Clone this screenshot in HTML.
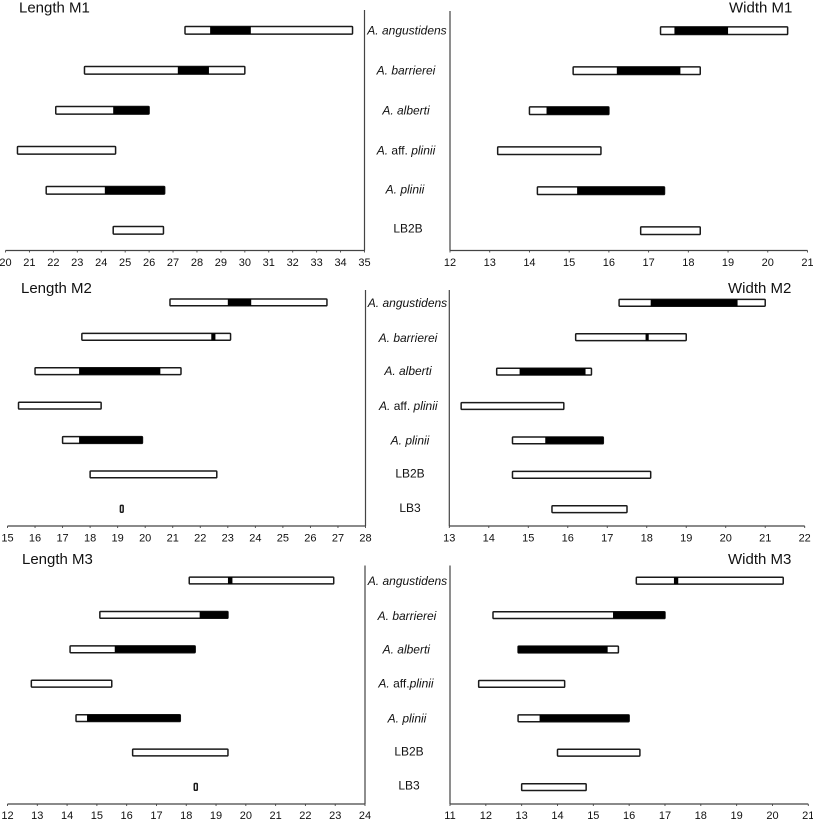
<!DOCTYPE html>
<html lang="en">
<head>
<meta charset="utf-8">
<title>Tooth measurement ranges</title>
<style>
html,body{margin:0;padding:0;background:#fff;width:813px;height:820px;overflow:hidden}
svg{display:block}
text{font-family:"Liberation Sans",Arial,sans-serif;fill:#111}
.title{font-size:15px}
.tick{font-size:11px;text-anchor:middle}
.cat{font-size:12px;text-anchor:middle}
</style>
</head>
<body>
<svg id="chart" width="813" height="820" viewBox="0 0 813 820" xmlns="http://www.w3.org/2000/svg">
  <rect x="0" y="0" width="813" height="820" fill="#fff"/>
  <text class="title" x="19" y="12.5">Length M1</text>
  <text class="title" x="729" y="12.5">Width M1</text>
  <text class="title" x="21" y="293">Length M2</text>
  <text class="title" x="728" y="293">Width M2</text>
  <text class="title" x="22" y="564">Length M3</text>
  <text class="title" x="728" y="564">Width M3</text>
</svg>
<script>
// Categories
const taxaM1 = ["A. angustidens", "A. barrierei", "A. alberti", "A. aff. plinii", "A. plinii", "LB2B"];
const taxaM2 = ["A. angustidens", "A. barrierei", "A. alberti", "A. aff. plinii", "A. plinii", "LB2B", "LB3"];
const taxaM3 = ["A. angustidens", "A. barrierei", "A. alberti", "A. aff.plinii", "A. plinii", "LB2B", "LB3"];

// Tick labels
const ticksLengthM1 = [20,21,22,23,24,25,26,27,28,29,30,31,32,33,34,35];
const ticksWidthM1  = [12,13,14,15,16,17,18,19,20,21];
const ticksLengthM2 = [15,16,17,18,19,20,21,22,23,24,25,26,27,28];
const ticksWidthM2  = [13,14,15,16,17,18,19,20,21,22];
const ticksLengthM3 = [12,13,14,15,16,17,18,19,20,21,22,23,24];
const ticksWidthM3  = [11,12,13,14,15,16,17,18,19,20,21];

// Total ranges (min, max) per taxon
const rangeLengthM1 = [[27.5,34.5],[23.3,30],[22.1,26],[20.5,24.6],[21.7,26.65],[24.5,26.6]];
const rangeWidthM1  = [[17.3,20.5],[15.1,18.3],[14,16],[13.2,15.8],[14.2,17.4],[16.8,18.3]];
const rangeLengthM2 = [[20.9,26.6],[17.7,23.1],[16,21.3],[15.4,18.4],[17,19.9],[18,22.6],[19.1,19.2]];
const rangeWidthM2  = [[17.3,21],[16.2,19],[14.2,16.6],[13.3,15.9],[14.6,16.9],[14.6,18.1],[15.6,17.5]];
const rangeLengthM3 = [[18.1,22.95],[15.1,19.4],[14.1,18.3],[12.8,15.5],[14.3,17.8],[16.2,19.4],[18.27,18.37]];
const rangeWidthM3  = [[16.2,20.3],[12.2,17],[12.9,15.7],[11.8,14.2],[12.9,16],[14,16.3],[13,14.8]];

// Black (overlap) segments per taxon; null where there is none
const overlapLengthM1 = [[28.55,30.25],[27.2,28.5],[24.5,26],null,[24.15,26.65],null];
const overlapWidthM1  = [[17.65,19],[16.2,17.8],[14.43,16],null,[15.2,17.4],null];
const overlapLengthM2 = [[23,23.85],[22.4,22.55],[17.6,20.55],null,[17.6,19.9],null,null];
const overlapWidthM2  = [[18.1,20.3],[17.97,18.05],[14.78,16.45],null,[15.43,16.9],null,null];
const overlapLengthM3 = [[19.4,19.55],[18.45,19.4],[15.6,18.3],null,[14.67,17.8],null,null];
const overlapWidthM3  = [[17.25,17.37],[15.55,17],[12.9,15.4],null,[13.5,16],null,null];

// Panel layout (pixels) kept apart from the data
const panels = [
  {id:"length-m1", taxa:taxaM1, ticks:ticksLengthM1, range:rangeLengthM1, overlap:overlapLengthM1, side:"left",
   x0:5.5, x1:364.5, axisY:250.5, top:10, row0:30.3, step:40, barH:7.6, labelY:4, labelDy:[0,0,0,0,-1,-2], labelX:[407,406,406,406,405,408], tickY:266},
  {id:"width-m1", taxa:taxaM1, ticks:ticksWidthM1, range:rangeWidthM1, overlap:overlapWidthM1, side:"right",
   x0:450, x1:807.5, axisY:250.5, top:11, row0:30.7, step:40, barH:7.6, tickY:266},
  {id:"length-m2", taxa:taxaM2, ticks:ticksLengthM2, range:rangeLengthM2, overlap:overlapLengthM2, side:"left",
   x0:7.5, x1:365.5, axisY:526, top:290, row0:302.4, step:34.4, barH:6.8, labelY:4, labelDy:[0.5,1,0,0.5,0.5,-1,-1], labelX:[407.5,408,408,408.3,410,410,410], tickY:541.5},
  {id:"width-m2", taxa:taxaM2, ticks:ticksWidthM2, range:rangeWidthM2, overlap:overlapWidthM2, side:"right",
   x0:449.3, x1:804.7, axisY:526, top:290, row0:302.8, step:34.4, barH:6.8, tickY:541.5},
  {id:"length-m3", taxa:taxaM3, ticks:ticksLengthM3, range:rangeLengthM3, overlap:overlapLengthM3, side:"left",
   x0:7.5, x1:365, axisY:804, top:565.5, row0:580.5, step:34.4, barH:6.8, labelY:4, labelDy:[0.5,1,0,0,0.5,-1,-1.5], labelX:[407.5,407,406.3,406,407,409,409], tickY:819},
  {id:"width-m3", taxa:taxaM3, ticks:ticksWidthM3, range:rangeWidthM3, overlap:overlapWidthM3, side:"right",
   x0:450, x1:808.3, axisY:804, top:565.5, row0:580.7, step:34.4, barH:6.8, tickY:819}
];

const SVG_NS = "http://www.w3.org/2000/svg";
const svgRoot = document.getElementById("chart");
const INK = "#1a1a1a";
const AXIS = "#444";

function make(tag, parent) {
  const el = document.createElementNS(SVG_NS, tag);
  parent.appendChild(el);
  return el;
}
function line(parent, x1, y1, x2, y2, color, width) {
  const el = make("line", parent);
  el.setAttribute("x1", x1);
  el.setAttribute("y1", y1);
  el.setAttribute("x2", x2);
  el.setAttribute("y2", y2);
  el.setAttribute("stroke", color);
  el.setAttribute("stroke-width", width);
  return el;
}
function addTaxonText(el, name) {
  if (/^LB/.test(name)) {
    el.textContent = name;
    return;
  }
  const m = name.match(/^(A\. )(aff\.)( ?)(.*)$/);
  el.setAttribute("font-style", "italic");
  if (!m) {
    el.textContent = name;
    return;
  }
  el.appendChild(document.createTextNode(m[1]));
  const aff = make("tspan", el);
  aff.setAttribute("font-style", "normal");
  aff.textContent = m[2] + m[3];
  el.appendChild(document.createTextNode(m[4]));
}

panels.forEach(function (p) {
  const lo = p.ticks[0];
  const hi = p.ticks[p.ticks.length - 1];
  const xScale = function (v) { return p.x0 + (v - lo) * (p.x1 - p.x0) / (hi - lo); };
  const yScale = function (i) { return p.row0 + i * p.step; };

  const g = make("g", svgRoot);
  
  

  const xAxis = line(g, p.x0, p.axisY, p.x1, p.axisY, AXIS, 1.2);
  
  

  const spineX = p.side === "left" ? p.x1 : p.x0;
  const spine = line(g, spineX, p.top, spineX, p.axisY, AXIS, 1.2);
  
  

  p.ticks.forEach(function (t) {
    const tx = xScale(t);
    const mark = line(g, tx, p.axisY, tx, p.axisY + 2, AXIS, 0.9);
    
    

    const label = make("text", g);
    
    
    label.setAttribute("class", "tick");
    label.setAttribute("x", tx);
    label.setAttribute("y", p.tickY);
    label.textContent = t;
  });

  p.taxa.forEach(function (name, i) {
    const cy = yScale(i);
    const r = p.range[i];
    const left = xScale(r[0]);
    const right = xScale(r[1]);

    const bar = make("rect", g);
    
    
    bar.setAttribute("x", left);
    bar.setAttribute("y", cy - p.barH / 2);
    bar.setAttribute("width", right - left);
    bar.setAttribute("height", p.barH);
    bar.setAttribute("rx", 0.8);
    bar.setAttribute("fill", "#fff");
    bar.setAttribute("stroke", INK);
    bar.setAttribute("stroke-width", 1.5);

    const o = p.overlap[i];
    if (o) {
      const seg = make("rect", g);
      
      
      seg.setAttribute("x", xScale(o[0]));
      seg.setAttribute("y", cy - p.barH / 2);
      seg.setAttribute("width", xScale(o[1]) - xScale(o[0]));
      seg.setAttribute("height", p.barH);
      seg.setAttribute("fill", "#000");
    }

    if (p.labelX) {
      const label = make("text", g);
      
      
      label.setAttribute("class", "cat");
      label.setAttribute("x", p.labelX[i]);
      label.setAttribute("y", cy + p.labelY + p.labelDy[i]);
      addTaxonText(label, name);
    }
  });
});
</script>
</body>
</html>
